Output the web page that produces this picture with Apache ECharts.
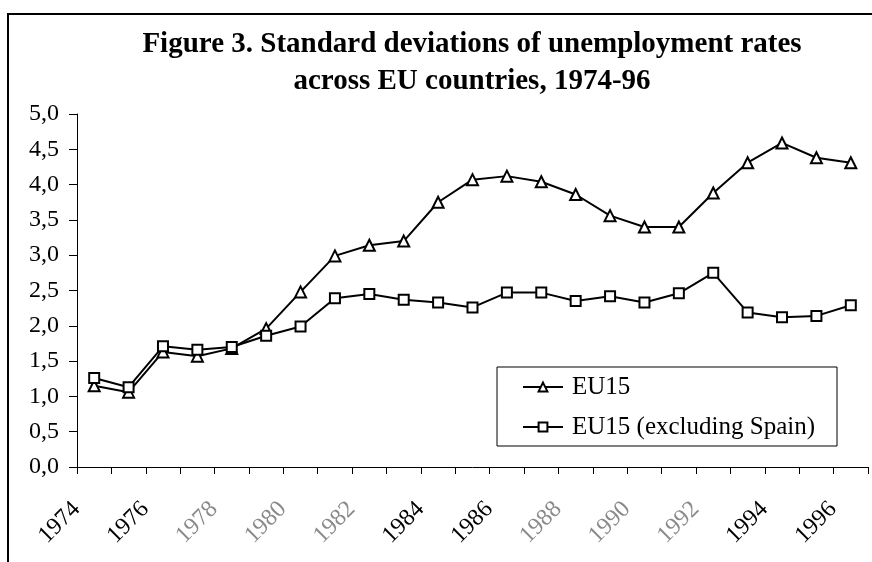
<!DOCTYPE html>
<html>
<head>
<meta charset="utf-8">
<script src="https://cdn.jsdelivr.net/npm/echarts@6/dist/echarts.min.js"></script>
<style>
  html, body { margin: 0; padding: 0; background: #fff; }
  #chart { width: 872px; height: 562px; }
</style>
</head>
<body>
<div id="chart"></div>
<script>
// years on the x axis
const years = ["1974", "1975", "1976", "1977", "1978", "1979", "1980", "1981", "1982", "1983", "1984", "1985",
  "1986", "1987", "1988", "1989", "1990", "1991", "1992", "1993", "1994", "1995", "1996"];

// standard deviations
const eu15 = [1.15, 1.06, 1.63, 1.57, 1.68, 1.96, 2.48, 2.99, 3.14, 3.20, 3.75, 4.07,
  4.12, 4.04, 3.86, 3.56, 3.40, 3.40, 3.88, 4.31, 4.59, 4.38, 4.31];
const eu15NoSpain = [1.26, 1.13, 1.71, 1.66, 1.70, 1.86, 1.99, 2.39, 2.45, 2.37, 2.33, 2.26,
  2.47, 2.47, 2.35, 2.42, 2.33, 2.46, 2.75, 2.19, 2.12, 2.14, 2.29];

// some year labels come out grey in the original
const greyLabels = ["1978", "1980", "1982", "1988", "1990", "1992"];

const serif = "'Liberation Serif', 'Times New Roman', serif";

const chart = echarts.init(document.getElementById("chart"));

const lineSeries = function(name, data, symbol, size) {
  return {
    name: name,
    type: "line",
    data: data,
    symbol: symbol,
    symbolSize: size,
    showAllSymbol: true,
    lineStyle: { color: "#000", width: 2 },
    itemStyle: { color: "#fff", borderColor: "#000", borderWidth: 2 },
    emphasis: { disabled: true },
    animation: false
  };
};

const options = {
  backgroundColor: "#fff",
  textStyle: { fontFamily: serif },
  title: {
    text: "Figure 3. Standard deviations of unemployment rates\nacross EU countries, 1974-96",
    left: 467,
    top: 21,
    textAlign: "center",
    textStyle: {
      fontFamily: serif,
      fontWeight: "bold",
      fontSize: 29,
      lineHeight: 37,
      color: "#000"
    }
  },
  graphic: [
    {
      // page frame: only the left and top edges show in the picture
      type: "rect",
      shape: { x: 8, y: 14, width: 900, height: 600 },
      style: { fill: null, stroke: "#000", lineWidth: 2 },
      silent: true
    }
  ],
  legend: {
    orient: "vertical",
    left: 497,
    top: 367,
    padding: [5, 22, 4, 25],
    itemGap: 10,
    itemWidth: 40,
    itemHeight: 11,
    backgroundColor: "#fff",
    borderColor: "#000",
    borderWidth: 1,
    borderRadius: 0,
    data: ["EU15", "EU15 (excluding Spain)"],
    textStyle: {
      fontFamily: serif,
      fontSize: 25,
      lineHeight: 30,
      color: "#000",
      padding: [0, 0, 0, 4]
    }
  },
  grid: {
    left: 77,
    right: 4,
    top: 114,
    bottom: 95,
    containLabel: false
  },
  xAxis: {
    type: "category",
    data: years,
    boundaryGap: true,
    axisLine: { lineStyle: { color: "#000", width: 1 } },
    axisTick: { show: true, interval: 0, length: 7, lineStyle: { color: "#000" } },
    axisLabel: {
      interval: 1,
      rotate: 45,
      margin: 21,
      fontFamily: serif,
      fontSize: 24,
      padding: [0, 25, 0, 0],
      color: function(v) {
        return greyLabels.indexOf(v) >= 0 ? "#8a8a8a" : "#000";
      }
    },
    splitLine: { show: false }
  },
  yAxis: {
    type: "value",
    min: 0,
    max: 5,
    interval: 0.5,
    axisLine: { show: true, lineStyle: { color: "#000", width: 1 } },
    axisTick: { show: true, length: 8, lineStyle: { color: "#000" } },
    axisLabel: {
      margin: 18,
      fontFamily: serif,
      fontSize: 24,
      color: "#000",
      formatter: function(v) {
        return v.toFixed(1).replace(".", ",");
      }
    },
    splitLine: { show: false }
  },
  series: [
    lineSeries("EU15", eu15, "triangle", 11),
    lineSeries("EU15 (excluding Spain)", eu15NoSpain, "rect", 10)
  ]
};

chart.setOption(options);
</script>
</body>
</html>
